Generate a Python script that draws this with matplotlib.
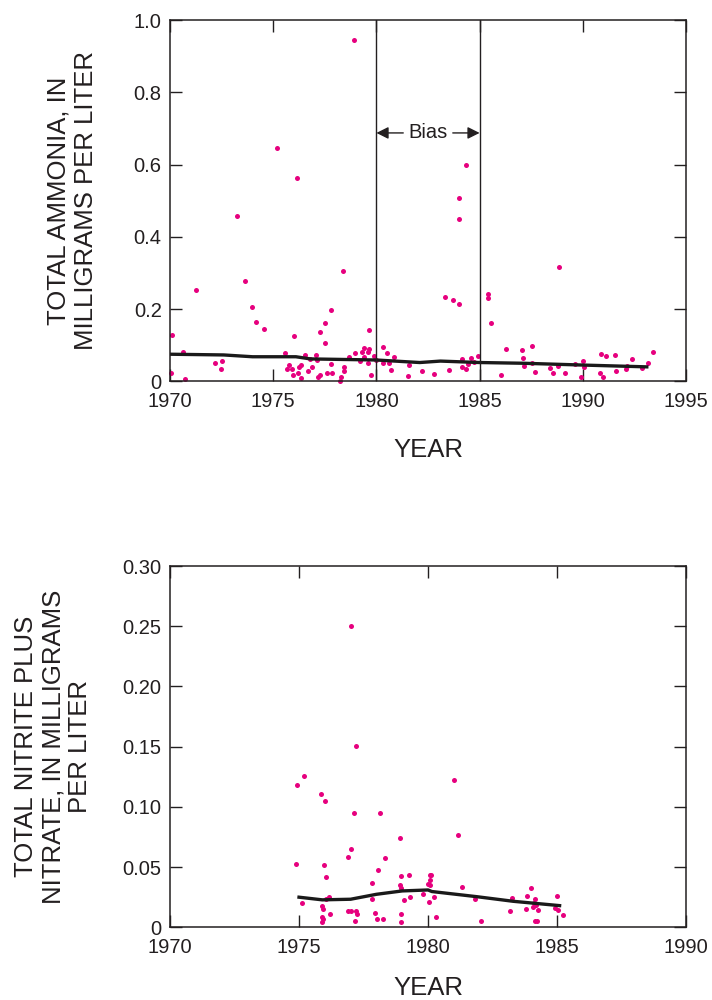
import numpy as np
import matplotlib.pyplot as plt

plt.rcParams['font.family'] = ['Liberation Sans', 'DejaVu Sans']

ink = '#231f20'
dot = '#e6007e'

# total ammonia samples (year, mg/L)
nh3_year = [1970.08, 1970.03, 1970.61, 1970.72, 1971.26, 1972.20, 1972.54, 1972.48,
            1973.26, 1973.65, 1973.99, 1974.18, 1974.57, 1975.19, 1975.59, 1975.66,
            1975.76, 1975.92, 1975.95, 1976.03, 1976.17, 1976.21, 1976.27, 1976.35,
            1976.34, 1976.55, 1976.67, 1976.80, 1976.87, 1977.08, 1977.14, 1977.19,
            1977.25, 1977.29, 1977.53, 1977.53, 1977.61, 1977.79, 1977.80, 1977.84,
            1978.25, 1978.29, 1978.40, 1978.42, 1978.43, 1978.68, 1978.90, 1978.95,
            1979.19, 1979.32, 1979.39, 1979.42, 1979.58, 1979.63, 1979.66, 1979.61,
            1979.76, 1979.87, 1979.98, 1980.31, 1980.34, 1980.52, 1980.60, 1980.70,
            1980.86, 1981.59, 1981.55, 1982.21, 1982.81, 1983.30, 1983.52, 1983.73,
            1984.01, 1984.02, 1984.02, 1984.35, 1984.14, 1984.13, 1984.33, 1984.46,
            1984.56, 1984.72, 1984.91, 1985.39, 1985.43, 1985.53, 1986.06, 1986.30,
            1987.06, 1987.11, 1987.13, 1987.55, 1987.56, 1987.66, 1988.39, 1988.57,
            1988.79, 1988.87, 1989.12, 1989.60, 1989.89, 1989.99, 1990.04, 1990.84,
            1990.86, 1991.00, 1991.10, 1991.54, 1991.59, 1992.07, 1992.14, 1992.37,
            1992.87, 1993.16, 1993.41]
nh3_val = [0.127, 0.024, 0.082, 0.006, 0.253, 0.050, 0.057, 0.035,
           0.458, 0.277, 0.206, 0.164, 0.146, 0.645, 0.079, 0.033,
           0.045, 0.035, 0.017, 0.125, 0.562, 0.022, 0.039, 0.044,
           0.009, 0.072, 0.029, 0.063, 0.040, 0.074, 0.059, 0.013,
           0.017, 0.136, 0.161, 0.105, 0.024, 0.198, 0.047, 0.023,
           0.000, 0.011, 0.305, 0.040, 0.028, 0.066, 0.945, 0.079,
           0.057, 0.081, 0.092, 0.068, 0.081, 0.142, 0.089, 0.050,
           0.017, 0.071, 0.059, 0.094, 0.050, 0.078, 0.050, 0.031,
           0.066, 0.044, 0.015, 0.029, 0.019, 0.234, 0.032, 0.225,
           0.215, 0.507, 0.449, 0.599, 0.063, 0.040, 0.034, 0.047,
           0.064, 0.054, 0.071, 0.230, 0.241, 0.161, 0.017, 0.089,
           0.088, 0.065, 0.042, 0.050, 0.099, 0.027, 0.038, 0.024,
           0.042, 0.318, 0.024, 0.047, 0.012, 0.056, 0.039, 0.022,
           0.076, 0.013, 0.071, 0.074, 0.028, 0.035, 0.043, 0.061,
           0.036, 0.051, 0.082]

nh3_trend_year = [1970.0, 1972.6, 1974.0, 1976.1, 1976.8, 1980.0, 1982.1, 1983.1,
                  1985.0, 1987.1, 1990.0, 1993.1]
nh3_trend_val = [0.075, 0.073, 0.068, 0.068, 0.062, 0.059, 0.052, 0.056,
                 0.052, 0.050, 0.045, 0.040]

# nitrite plus nitrate samples (year, mg/L)
no3_year = [1974.90, 1974.94, 1975.13, 1975.19, 1975.87, 1975.88, 1975.88, 1975.90,
            1975.94, 1975.94, 1975.97, 1975.99, 1976.04, 1976.06, 1976.18, 1976.19,
            1976.89, 1976.90, 1977.00, 1977.03, 1977.03, 1977.14, 1977.18, 1977.21,
            1977.21, 1977.26, 1977.82, 1977.82, 1977.93, 1978.03, 1978.08, 1978.13,
            1978.26, 1978.32, 1978.90, 1978.90, 1978.96, 1978.97, 1978.97, 1978.97,
            1979.07, 1979.27, 1979.32, 1979.82, 1979.99, 1980.03, 1980.06, 1980.07,
            1980.07, 1980.11, 1980.22, 1980.32, 1981.02, 1981.18, 1981.31, 1981.83,
            1982.05, 1983.17, 1983.27, 1983.81, 1983.85, 1983.98, 1984.05, 1984.10,
            1984.13, 1984.14, 1984.18, 1984.23, 1984.25, 1984.92, 1984.99, 1985.05,
            1985.23]
no3_val = [0.0523, 0.1185, 0.0205, 0.1254, 0.1110, 0.0180, 0.0041, 0.0083,
           0.0152, 0.0066, 0.0515, 0.1046, 0.0232, 0.0415, 0.0254, 0.0108,
           0.0587, 0.0138, 0.2505, 0.0650, 0.0138, 0.0952, 0.0050, 0.1506,
           0.0138, 0.0113, 0.0371, 0.0232, 0.0120, 0.0069, 0.0479, 0.0952,
           0.0072, 0.0573, 0.0739, 0.0354, 0.0330, 0.0426, 0.0110, 0.0041,
           0.0230, 0.0437, 0.0254, 0.0274, 0.0357, 0.0207, 0.0355, 0.0393,
           0.0432, 0.0432, 0.0249, 0.0088, 0.1226, 0.0769, 0.0335, 0.0232,
           0.0055, 0.0135, 0.0241, 0.0155, 0.0257, 0.0326, 0.0171, 0.0202,
           0.0232, 0.0055, 0.0187, 0.0055, 0.0146, 0.0163, 0.0263, 0.0146,
           0.0102]

no3_trend_year = [1975.0, 1975.9, 1977.0, 1978.0, 1979.0, 1980.0, 1980.15, 1981.9,
                  1983.3, 1985.1]
no3_trend_val = [0.025, 0.0228, 0.0233, 0.0274, 0.0302, 0.031, 0.0297, 0.0254,
                 0.0216, 0.018]

nh3_xticks = [1970, 1975, 1980, 1985, 1990, 1995]
nh3_yticks = [0, 0.2, 0.4, 0.6, 0.8, 1.0]
nh3_ylabels = ['0', '0.2', '0.4', '0.6', '0.8', '1.0']
no3_xticks = [1970, 1975, 1980, 1985, 1990]
no3_yticks = [0, 0.05, 0.10, 0.15, 0.20, 0.25, 0.30]
no3_ylabels = ['0', '0.05', '0.10', '0.15', '0.20', '0.25', '0.30']


def style(ax, xt, yt, ylab, year_y):
    ax.set_xticks(xt)
    ax.set_xticklabels([str(t) for t in xt])
    ax.set_yticks(yt)
    ax.set_yticklabels(ylab)
    ax.set_xlim(xt[0], xt[-1])
    ax.set_ylim(yt[0], yt[-1])
    for s in ax.spines.values():
        s.set_linewidth(1.1)
        s.set_color(ink)
    ax.tick_params(direction='in', length=8.5, width=1.0, color=ink,
                   labelsize=14.5, labelcolor=ink, top=True, right=True)
    ax.tick_params(axis='x', pad=8)
    ax.tick_params(axis='y', pad=6)
    ax.text(0.5, year_y, 'YEAR', transform=ax.transAxes, ha='center',
            va='baseline', fontsize=18.5, color=ink)


fig = plt.figure(figsize=(7.12, 10), dpi=100)

ax1 = fig.add_axes([0.2388, 0.6187, 0.7247, 0.361])
style(ax1, nh3_xticks, nh3_yticks, nh3_ylabels, -0.21)
ax1.plot(nh3_year, nh3_val, 'o', color=dot, markersize=3.6, mec='none', clip_on=False)
ax1.plot(nh3_trend_year, nh3_trend_val, color='#1a1a1a', lw=2.4)
ax1.axvline(1980, color=ink, lw=1.0)
ax1.axvline(1985, color=ink, lw=1.0)
ax1.text(1982.5, 0.688, 'Bias', ha='center', va='center', fontsize=14.5, color=ink)
ax1.annotate('', xy=(1980, 0.688), xytext=(1981.3, 0.688),
             arrowprops=dict(arrowstyle='-|>', color=ink, lw=1.0, mutation_scale=18,
                             shrinkA=0, shrinkB=0))
ax1.annotate('', xy=(1985, 0.688), xytext=(1983.7, 0.688),
             arrowprops=dict(arrowstyle='-|>', color=ink, lw=1.0, mutation_scale=18,
                             shrinkA=0, shrinkB=0))
ax1.text(-0.19, 0.5, 'TOTAL AMMONIA, IN\nMILLIGRAMS PER LITER', rotation=90,
         transform=ax1.transAxes, ha='center', va='center', fontsize=18.5,
         color=ink, linespacing=1.16, multialignment='center')

ax2 = fig.add_axes([0.2388, 0.0727, 0.7247, 0.3613])
style(ax2, no3_xticks, no3_yticks, no3_ylabels, -0.187)
ax2.plot(no3_year, no3_val, 'o', color=dot, markersize=3.6, mec='none', clip_on=False)
ax2.plot(no3_trend_year, no3_trend_val, color='#1a1a1a', lw=2.4)
ax2.text(-0.226, 0.5, 'TOTAL NITRITE PLUS\nNITRATE, IN MILLIGRAMS\nPER LITER', rotation=90,
         transform=ax2.transAxes, ha='center', va='center', fontsize=18.5,
         color=ink, linespacing=1.16, multialignment='center')

fig.savefig('out.png', dpi=100)
